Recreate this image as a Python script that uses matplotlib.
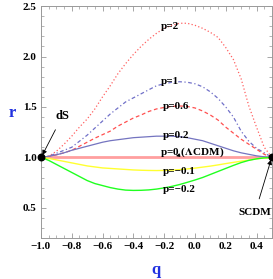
import matplotlib
matplotlib.use('Agg')
import matplotlib.pyplot as plt
import numpy as np
from matplotlib.ticker import MultipleLocator

# q grid (deceleration parameter)
q = [-1.00, -0.95, -0.90, -0.85, -0.80, -0.75, -0.70, -0.65, -0.60, -0.55,
     -0.50, -0.45, -0.40, -0.35, -0.30, -0.25, -0.20, -0.15, -0.10, -0.05,
     0.00, 0.05, 0.10, 0.15, 0.20, 0.25, 0.30, 0.35, 0.40, 0.45, 0.50]

# r(q) for each p
r_p2 = [1.00, 1.01, 1.06, 1.13, 1.21, 1.30, 1.38, 1.48, 1.60, 1.71,
        1.83, 1.93, 2.02, 2.10, 2.17, 2.23, 2.28, 2.31, 2.33, 2.33,
        2.31, 2.28, 2.24, 2.19, 2.09, 1.97, 1.78, 1.51, 1.30, 1.10, 1.00]
r_p1 = [1.00, 1.01, 1.04, 1.07, 1.10, 1.16, 1.22, 1.29, 1.36, 1.43,
        1.49, 1.55, 1.59, 1.63, 1.67, 1.71, 1.73, 1.745, 1.75, 1.745,
        1.73, 1.70, 1.65, 1.585, 1.50, 1.40, 1.26, 1.16, 1.09, 1.045, 1.00]
r_p06 = [1.00, 1.01, 1.025, 1.045, 1.07, 1.11, 1.15, 1.19, 1.225, 1.26,
         1.31, 1.35, 1.39, 1.42, 1.455, 1.48, 1.495, 1.505, 1.51, 1.505,
         1.49, 1.46, 1.42, 1.37, 1.30, 1.24, 1.18, 1.13, 1.08, 1.03, 1.00]
r_p02 = [1.00, 1.01, 1.025, 1.045, 1.07, 1.09, 1.11, 1.13, 1.15, 1.165,
         1.175, 1.185, 1.195, 1.20, 1.205, 1.21, 1.21, 1.21, 1.205, 1.195,
         1.18, 1.165, 1.14, 1.115, 1.09, 1.065, 1.045, 1.03, 1.015, 1.005, 1.00]
r_p0 = [1.0] * 31
r_pm01 = [1.00, 0.99, 0.975, 0.96, 0.945, 0.93, 0.915, 0.905, 0.895, 0.89,
          0.885, 0.88, 0.875, 0.872, 0.87, 0.869, 0.87, 0.873, 0.878, 0.885,
          0.893, 0.903, 0.913, 0.925, 0.938, 0.95, 0.962, 0.973, 0.985, 0.994, 1.00]
r_pm02 = [1.00, 0.97, 0.93, 0.89, 0.85, 0.81, 0.77, 0.74, 0.72, 0.70,
          0.685, 0.675, 0.672, 0.673, 0.677, 0.685, 0.697, 0.712, 0.73, 0.752,
          0.775, 0.80, 0.83, 0.86, 0.89, 0.92, 0.948, 0.97, 0.985, 0.995, 1.00]

curve_labels = ['p=2', 'p=1', 'p=0.6', 'p=0.2', 'p=0 ($\\Lambda$CDM)', 'p=\u22120.1', 'p=\u22120.2']
label_pos = [(-0.16, 2.30), (-0.16, 1.75), (-0.12, 1.50), (-0.12, 1.22),
             (-0.02, 1.05), (-0.10, 0.86), (-0.10, 0.68)]

# fixed points
q_pts = [-1.0, 0.5]
r_pts = [1.0, 1.0]

plt.rcParams['font.family'] = ['Liberation Serif', 'DejaVu Serif']
plt.rcParams['font.weight'] = 'bold'
plt.rcParams['mathtext.fontset'] = 'stix'

fig = plt.figure(figsize=(2.73, 2.79), dpi=100)
ax = fig.add_axes([0.150, 0.147, 0.846, 0.831])

ax.plot(q, r_p0, color='#ff9f9f', lw=2.0, zorder=2)
ax.plot(q, r_p2, color='#ff6060', lw=0.9, ls=(0, (1, 1.8)), zorder=3)
ax.plot(q, r_p1, color='#7070c8', lw=0.9, ls=(0, (3, 2, 1, 2)), zorder=3)
ax.plot(q, r_p06, color='#ff5050', lw=0.9, ls=(0, (3, 2.2)), zorder=3)
ax.plot(q, r_p02, color='#7474c0', lw=0.9, zorder=3)
ax.plot(q, r_pm01, color='#ffff30', lw=1.0, zorder=3)
ax.plot(q, r_pm02, color='#20ff20', lw=1.0, zorder=3)
ax.scatter(q_pts, r_pts, s=22, color='black', zorder=5, clip_on=False)

for lab, (x, y) in zip(curve_labels, label_pos):
    ax.text(x, y, lab, fontsize=8, fontweight='bold', ha='center', va='center', zorder=6)

ax.annotate('', xy=(-0.14, 1.005), xytext=(-0.08, 1.03),
            arrowprops=dict(arrowstyle='-|>', color='black', lw=0.6, mutation_scale=5))
ax.annotate('dS', xy=(-0.995, 1.01), xytext=(-0.86, 1.41), fontsize=9, fontweight='bold',
            ha='center', va='center',
            arrowprops=dict(arrowstyle='-|>', color='black', lw=0.6, mutation_scale=7,
                            shrinkA=4, shrinkB=1))
ax.annotate('SCDM', xy=(0.497, 0.99), xytext=(0.39, 0.45), fontsize=8, fontweight='bold',
            ha='center', va='center',
            arrowprops=dict(arrowstyle='-|>', color='black', lw=0.6, mutation_scale=7,
                            shrinkA=5, shrinkB=1))

ax.set_xlim(-1.0, 0.5)
ax.set_ylim(0.2, 2.5)
ax.xaxis.set_major_locator(MultipleLocator(0.2))
ax.xaxis.set_minor_locator(MultipleLocator(0.05))
ax.yaxis.set_major_locator(MultipleLocator(0.5))
ax.yaxis.set_minor_locator(MultipleLocator(0.1))
ax.tick_params(which='both', direction='in', top=True, right=True, color='#999999',
               labelsize=8, pad=3)
ax.tick_params(which='major', length=3.5, width=0.6)
ax.tick_params(which='minor', length=2, width=0.5)
for lab in ax.get_xticklabels() + ax.get_yticklabels():
    lab.set_fontweight('bold')
for sp in ax.spines.values():
    sp.set_color('#999999')
    sp.set_linewidth(0.7)

ax.set_xlabel('q', fontsize=12, fontweight='bold', color='#2030e0')
ax.set_ylabel('r', fontsize=12, fontweight='bold', color='#2030e0', rotation=0, va='center')
ax.xaxis.set_label_coords(0.5, -0.105)
ax.yaxis.set_label_coords(-0.125, 0.54)

fig.savefig('out.png', dpi=100)
